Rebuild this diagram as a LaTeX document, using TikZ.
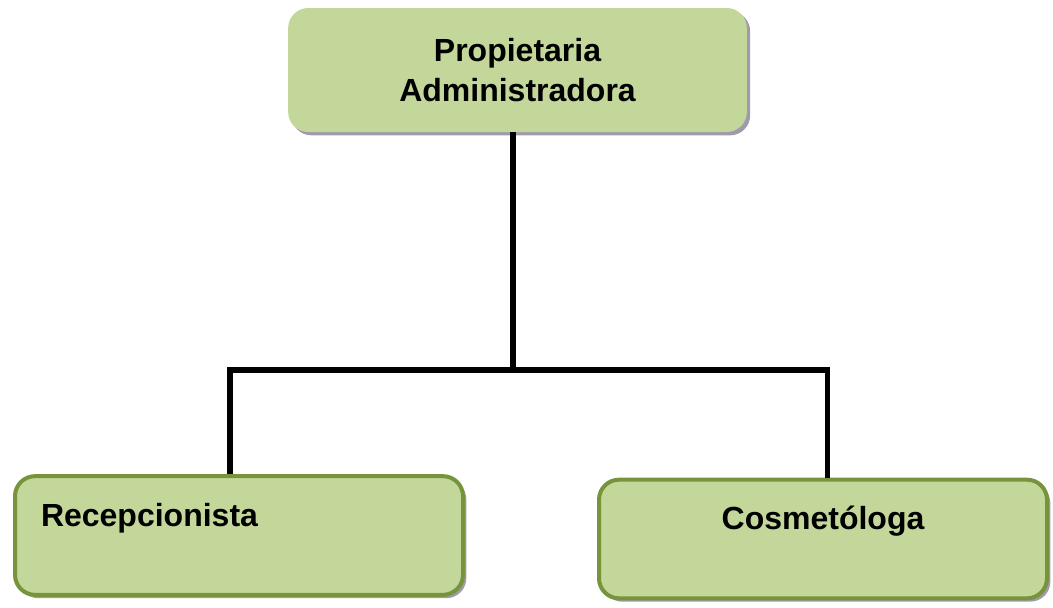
\documentclass[tikz,border=0pt]{standalone}
\usepackage{fontspec}
\setmainfont{Liberation Sans}
\usetikzlibrary{shadows}
\definecolor{cajaverde}{RGB}{196,215,155}
\definecolor{bordeverde}{RGB}{119,147,60}
\definecolor{sombra}{RGB}{158,155,172}
\begin{document}
\begin{tikzpicture}[x=0.75pt,y=-0.75pt,
    puesto/.style={rectangle,rounded corners=15pt,fill=cajaverde,
      font=\bfseries\fontsize{24}{30}\selectfont,
      drop shadow={shadow xshift=2.5pt,shadow yshift=-2.5pt,fill=sombra,opacity=1}},
    subpuesto/.style={puesto,draw=bordeverde,line width=3pt,
      minimum height=89pt,inner xsep=19.5pt,text width=297pt,
      text height=17pt,text depth=31pt},
    linea/.style={line width=3.9pt,line join=miter}]
    \useasboundingbox (0,0) rectangle (1053,607);
    \node[puesto,minimum width=344pt,minimum height=93pt,align=center]
      (prop) at (517.5,70) {Propietaria\\Administradora};
    \node[subpuesto,align=left] (recep) at (239,535.5) {Recepcionista};
    \node[subpuesto,align=center] (cosme) at (823,539) {Cosmetóloga};
    % organigrama
    \coordinate (jm) at (513,370);
    \coordinate (jl) at (230,370);
    \coordinate (jr) at (827.5,370);
    \draw[linea] (prop.south -| jm) -- (jm);
    \draw[linea] (recep.north -| jl) -- (jl) -- (jr) -- (cosme.north -| jr);
\end{tikzpicture}
\end{document}
